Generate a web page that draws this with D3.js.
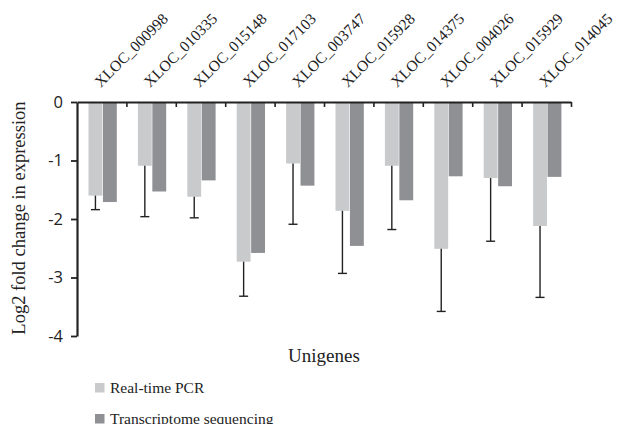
<!DOCTYPE html>
<html>
<head>
<meta charset="utf-8">
<script src="https://cdn.jsdelivr.net/npm/d3@7"></script>
<style>
  body { margin: 0; background: #fff; }
  svg { display: block; }
</style>
</head>
<body>
<svg id="chart" width="622" height="424"></svg>
<script>
//Gene ids along the x axis
var genes = ["XLOC_000998", "XLOC_010335", "XLOC_015148", "XLOC_017103", "XLOC_003747",
             "XLOC_015928", "XLOC_014375", "XLOC_004026", "XLOC_015929", "XLOC_014045"];
//Log2 fold change
var pcrValues = [-1.60, -1.09, -1.62, -2.73, -1.05, -1.86, -1.09, -2.51, -1.30, -2.12];
var seqValues = [-1.71, -1.53, -1.34, -2.58, -1.43, -2.46, -1.68, -1.27, -1.44, -1.28];
//Lower end of the error bars on the real-time PCR bars
var pcrErrLow = [-1.84, -1.96, -1.98, -3.32, -2.09, -2.93, -2.18, -3.58, -2.38, -3.34];
var yTicks = [0, -1, -2, -3, -4];
var seriesNames = ["Real-time PCR", "Transcriptome sequencing"];

var colors = ["#c9cacc", "#8f9094"];

var svg = d3.select("#chart"),
  margin = {top: 102, left: 77},
  width = 494,
  height = 234,
  g = svg.append("g").attr("transform", "translate(" + margin.left + "," + margin.top + ")");

var x = d3.scaleBand().domain(genes).range([0, width]).paddingInner(0).paddingOuter(0);
var xInner = d3.scaleBand().domain([0, 1]).range([11.5, 39.8]).paddingInner(0.04);
var y = d3.scaleLinear().domain([-4, 0]).range([height, 0]);
//boundary ticks between the genes
var xEdges = d3.scaleLinear().domain([0, genes.length]).range([0, width]);

//bars, one group per gene
var groups = g.selectAll(".gene")
  .data(genes)
  .enter().append("g")
  .attr("class", "gene")
  .attr("transform", function(d) { return "translate(" + x(d) + ",0)"; });

groups.selectAll("rect")
  .data(function(d, i) { return [pcrValues[i], seqValues[i]]; })
  .enter().append("rect")
  .attr("x", function(d, j) { return xInner(j); })
  .attr("width", xInner.bandwidth())
  .attr("y", y(0))
  .attr("height", function(d) { return y(d) - y(0); })
  .attr("fill", function(d, j) { return colors[j]; });

//error bars (downward only) on the PCR bars
var errG = groups.append("g")
  .attr("stroke", "#222")
  .attr("stroke-width", 1.4);

errG.append("line")
  .attr("x1", xInner(0) + xInner.bandwidth() / 2)
  .attr("x2", xInner(0) + xInner.bandwidth() / 2)
  .attr("y1", function(d, i) { return y(pcrValues[i]); })
  .attr("y2", function(d, i) { return y(pcrErrLow[i]); });

errG.append("line")
  .attr("x1", xInner(0) + xInner.bandwidth() / 2 - 4.5)
  .attr("x2", xInner(0) + xInner.bandwidth() / 2 + 4.5)
  .attr("y1", function(d, i) { return y(pcrErrLow[i]); })
  .attr("y2", function(d, i) { return y(pcrErrLow[i]); });

//X axis along zero
var xAxis = g.append("g")
  .attr("transform", "translate(0," + y(0) + ")")
  .call(d3.axisBottom(xEdges).ticks(genes.length).tickFormat("").tickSizeInner(5).tickSizeOuter(0));
xAxis.select(".domain").attr("stroke", "#222").attr("stroke-width", 2.2);
xAxis.selectAll(".tick line").attr("stroke", "#222").attr("stroke-width", 1.6);
xAxis.selectAll(".tick").filter(function(d) { return d === 0; }).remove();

//rotated gene labels, 45 degrees up from the band centre
g.append("g")
  .selectAll("text")
  .data(genes)
  .enter().append("text")
  .attr("transform", function(d) { return "translate(" + (x(d) + x.bandwidth() / 2 - 1) + ",-14) rotate(-45)"; })
  .attr("font-family", "Liberation Serif, Times New Roman, serif")
  .attr("font-size", 15.5)
  .attr("fill", "#222")
  .text(function(d) { return d; });

//Y axis
var yAxis = g.append("g")
  .call(d3.axisLeft(y).tickValues(yTicks).tickFormat(d3.format("d")).tickSizeInner(6).tickSizeOuter(0).tickPadding(8));
yAxis.select(".domain").attr("stroke", "#222").attr("stroke-width", 2.2);
yAxis.selectAll(".tick line").attr("stroke", "#222").attr("stroke-width", 1.8);
yAxis.selectAll(".tick text")
  .attr("font-family", "Open Sans, sans-serif")
  .attr("font-size", 16.5)
  .attr("fill", "#222")
  .text(function(d) { return d === 0 ? "0" : "-" + Math.abs(d); });

//axis titles
svg.append("text")
  .attr("transform", "translate(25,218) rotate(-90)")
  .attr("text-anchor", "middle")
  .attr("font-family", "Liberation Serif, Times New Roman, serif")
  .attr("font-size", 18.5)
  .attr("fill", "#222")
  .text("Log2 fold change in expression");

svg.append("text")
  .attr("x", 324)
  .attr("y", 362)
  .attr("text-anchor", "middle")
  .attr("font-family", "Liberation Serif, Times New Roman, serif")
  .attr("font-size", 19)
  .attr("fill", "#222")
  .text("Unigenes");

//legend
var legend = svg.append("g")
  .selectAll("g")
  .data(seriesNames)
  .enter().append("g")
  .attr("transform", function(d, i) { return "translate(95," + (383 + i * 31) + ")"; });

legend.append("rect")
  .attr("width", 9.5)
  .attr("height", 9.5)
  .attr("fill", function(d, i) { return colors[i]; });

legend.append("text")
  .attr("x", 15)
  .attr("y", 10)
  .attr("font-family", "Liberation Serif, Times New Roman, serif")
  .attr("font-size", 15.5)
  .attr("fill", "#222")
  .text(function(d) { return d; });
</script>
</body>
</html>
